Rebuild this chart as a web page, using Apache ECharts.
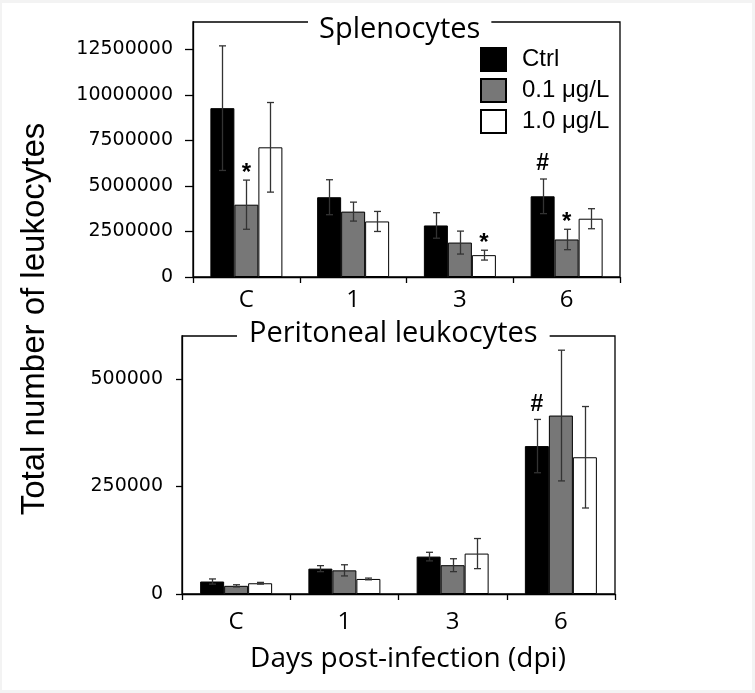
<!DOCTYPE html>
<html>
<head>
<meta charset="utf-8">
<script src="https://cdn.jsdelivr.net/npm/echarts@6/dist/echarts.min.js"></script>
<style>
html,body{margin:0;padding:0;background:#f3f3f3;}
#bgbox{position:absolute;left:2px;top:3px;width:750px;height:687px;background:#fff;}
#c{position:absolute;left:0;top:0;width:755px;height:693px;}
</style>
</head>
<body>
<div id="bgbox"></div>
<div id="c"></div>
<script>
// ---- data ----
const categories = ['C', '1', '3', '6'];
const seriesNames = ['Ctrl', '0.1 μg/L', '1.0 μg/L'];

// Splenocytes (top panel)
const splenoCtrl = [9270000, 4380000, 2830000, 4430000];
const splenoCtrlErr = [3420000, 960000, 700000, 950000];
const splenoLow = [3970000, 3590000, 1890000, 2060000];
const splenoLowErr = [1350000, 520000, 630000, 560000];
const splenoHigh = [7120000, 3050000, 1200000, 3200000];
const splenoHighErr = [2460000, 550000, 270000, 550000];
const splenoTicks = [0, 2500000, 5000000, 7500000, 10000000, 12500000];
const splenoMarksCtrl = ['', '', '', '#'];
const splenoMarksLow = ['*', '', '', '*'];
const splenoMarksHigh = ['', '', '*', ''];

// Peritoneal leukocytes (bottom panel)
const periCtrl = [29000, 59000, 87000, 344000];
const periCtrlErr = [6000, 7000, 10000, 62000];
const periLow = [19000, 55000, 67000, 415000];
const periLowErr = [2500, 13000, 15000, 152000];
const periHigh = [25000, 35000, 94000, 318000];
const periHighErr = [2000, 2000, 35000, 118000];
const periTicks = [0, 250000, 500000];
const periMarksCtrl = ['', '', '', '#'];
const periMarksLow = ['', '', '', ''];
const periMarksHigh = ['', '', '', ''];

// ---- styles ----
const BAR_W = 24;
const colors = ['#000000', '#777777', '#ffffff'];
const tickFont = 'DejaVu Sans';
const catFont = 'Open Sans';

function barSeries(idx, name, data, color) {
  return {
    type: 'bar', name: name, xAxisIndex: idx, yAxisIndex: idx, data: data,
    barWidth: BAR_W, barGap: '0%', silent: true, z: 2,
    itemStyle: {color: color, borderColor: '#000', borderWidth: 1}
  };
}
function errSeries(idx, means, errs, slot) {
  return {
    type: 'custom', xAxisIndex: idx, yAxisIndex: idx, silent: true, z: 5,
    renderItem: function (params, api) {
      const ci = api.value(0);
      const top = api.coord([ci, api.value(2)]);
      const bot = api.coord([ci, api.value(1)]);
      const x = Math.round(top[0] + slot * BAR_W) + 0.5;
      const st = {stroke: '#333', lineWidth: 1.3};
      return {type: 'group', children: [
        {type: 'line', shape: {x1: x, y1: top[1], x2: x, y2: bot[1]}, style: st},
        {type: 'line', shape: {x1: x - 3.5, y1: top[1], x2: x + 3.5, y2: top[1]}, style: st},
        {type: 'line', shape: {x1: x - 3.5, y1: bot[1], x2: x + 3.5, y2: bot[1]}, style: st}
      ]};
    },
    data: means.map(function (m, i) { return [i, m - errs[i], m + errs[i]]; })
  };
}
function markSeries(idx, means, errs, marks, slot) {
  return {
    type: 'custom', xAxisIndex: idx, yAxisIndex: idx, silent: true, z: 6,
    renderItem: function (params, api) {
      const t = marks[params.dataIndex];
      if (!t) return null;
      const p = api.coord([api.value(0), api.value(1)]);
      const isHash = t === '#';
      return {type: 'text', x: p[0] + slot * BAR_W, y: p[1] - (isHash ? 15 : 7),
        style: {text: t, fill: '#000', fontSize: isHash ? 23 : 24, fontWeight: 'bold',
          fontFamily: 'Liberation Sans', align: 'center', verticalAlign: 'middle'}};
    },
    data: means.map(function (m, i) { return [i, m + errs[i]]; })
  };
}
function xAxis(idx, margin) {
  return {
    gridIndex: idx, type: 'category', data: categories,
    axisLine: {show: true, lineStyle: {color: '#000', width: 1.3}},
    axisTick: {show: true, length: 6, lineStyle: {color: '#000', width: 1.3}},
    axisLabel: {color: '#000', fontFamily: catFont, fontSize: 24, margin: margin}
  };
}
function yAxis(idx, max, interval, ticks, tickLen, margin) {
  return {
    gridIndex: idx, type: 'value', min: 0, max: max, interval: interval,
    splitLine: {show: false},
    axisLine: {show: true, lineStyle: {color: '#000', width: 1.3}},
    axisTick: {show: true, length: tickLen, customValues: ticks, lineStyle: {color: '#000', width: 1.3}},
    axisLabel: {color: '#000', fontFamily: tickFont, fontSize: 19, margin: margin,
      customValues: ticks,
      formatter: function (v) { return ticks.indexOf(v) >= 0 ? String(v) : ''; }}
  };
}

const chart = echarts.init(document.getElementById('c'), null, {renderer: 'canvas'});
chart.setOption({
  animation: false,
  backgroundColor: 'transparent',
  title: [
    {text: 'Splenocytes', left: 308, top: 12, padding: [3, 11, 3, 11], backgroundColor: '#fff',
      textStyle: {fontFamily: 'Open Sans', fontSize: 29, fontWeight: 'normal', color: '#000'}},
    {text: 'Peritoneal leukocytes', left: 237, top: 316, padding: [3, 12, 3, 12], backgroundColor: '#fff',
      textStyle: {fontFamily: 'Open Sans', fontSize: 29, fontWeight: 'normal', color: '#000'}}
  ],
  legend: {
    orient: 'vertical', left: 475, top: 42, itemWidth: 25, itemHeight: 23, itemGap: 6,
    icon: 'rect', data: seriesNames, selectedMode: false,
    textStyle: {fontFamily: 'Liberation Sans', fontSize: 24, color: '#000', padding: [0, 0, 0, 11]}
  },
  grid: [
    {left: 193, top: 22, width: 427, height: 255, show: true, borderColor: '#000', borderWidth: 1.3, containLabel: false},
    {left: 182, top: 336, width: 433, height: 258, show: true, borderColor: '#000', borderWidth: 1.3, containLabel: false}
  ],
  xAxis: [xAxis(0, 11), xAxis(1, 16)],
  yAxis: [
    yAxis(0, 14000000, 2500000, splenoTicks, 8, 20),
    yAxis(1, 600000, 250000, periTicks, 6, 19)
  ],
  graphic: [
    {type: 'text', x: 35, y: 319, rotation: Math.PI / 2,
      style: {text: 'Total number of leukocytes', fontSize: 33, fontFamily: 'Liberation Sans',
        fill: '#000', align: 'center', verticalAlign: 'middle'}},
    {type: 'text', x: 408, y: 659,
      style: {text: 'Days post-infection (dpi)', fontSize: 28, fontFamily: 'Open Sans',
        fill: '#000', align: 'center', verticalAlign: 'middle'}}
  ],
  series: [
    barSeries(0, seriesNames[0], splenoCtrl, colors[0]),
    barSeries(0, seriesNames[1], splenoLow, colors[1]),
    barSeries(0, seriesNames[2], splenoHigh, colors[2]),
    errSeries(0, splenoCtrl, splenoCtrlErr, -1),
    errSeries(0, splenoLow, splenoLowErr, 0),
    errSeries(0, splenoHigh, splenoHighErr, 1),
    markSeries(0, splenoCtrl, splenoCtrlErr, splenoMarksCtrl, -1),
    markSeries(0, splenoLow, splenoLowErr, splenoMarksLow, 0),
    markSeries(0, splenoHigh, splenoHighErr, splenoMarksHigh, 1),
    barSeries(1, seriesNames[0], periCtrl, colors[0]),
    barSeries(1, seriesNames[1], periLow, colors[1]),
    barSeries(1, seriesNames[2], periHigh, colors[2]),
    errSeries(1, periCtrl, periCtrlErr, -1),
    errSeries(1, periLow, periLowErr, 0),
    errSeries(1, periHigh, periHighErr, 1),
    markSeries(1, periCtrl, periCtrlErr, periMarksCtrl, -1),
    markSeries(1, periLow, periLowErr, periMarksLow, 0),
    markSeries(1, periHigh, periHighErr, periMarksHigh, 1)
  ]
});
</script>
</body>
</html>
